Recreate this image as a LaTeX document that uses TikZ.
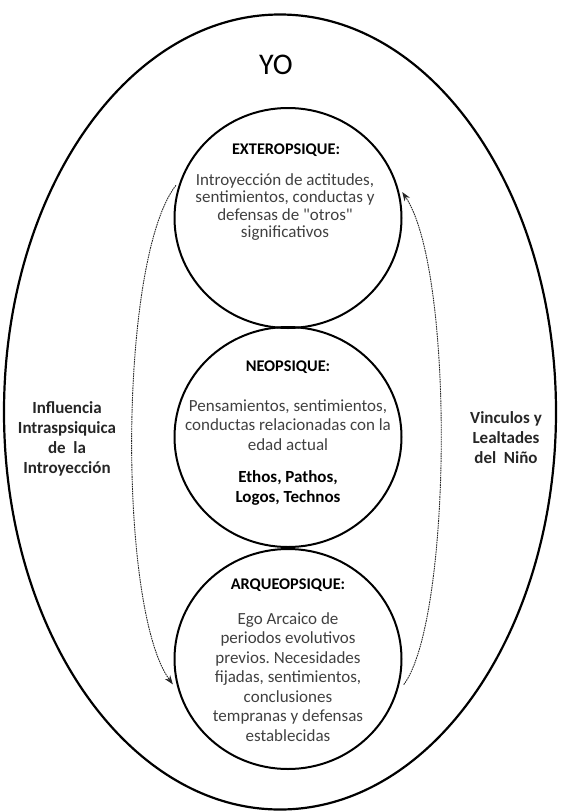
\documentclass[tikz,border=0pt]{standalone}
\usepackage{fontspec}
\setmainfont{Carlito}
\usetikzlibrary{shapes.geometric,arrows.meta}
\frenchspacing
\tikzset{
	capa/.style={draw, ellipse, line width=2pt, minimum width=227pt, minimum height=220pt, inner sep=0pt},
	titulo/.style={font=\fontsize{16.3}{20}\selectfont\bfseries},
	cuerpo/.style={align=center, text=black!75, font=\fontsize{17}{19.5}\selectfont},
	lateral/.style={align=center, text=black!85, font=\fontsize{17}{20}\selectfont\bfseries},
	flujo/.style={line width=0.9pt, black!85, dash pattern=on 1.6pt off 0.8pt, -{Stealth[length=9pt,width=6.5pt]}}
}
\begin{document}
\begin{tikzpicture}[x=1pt, y=-1pt]
		\useasboundingbox (0, 0) rectangle (561, 812);
		% yo
		\node[draw, ellipse, line width=2.2pt, minimum width=552pt, minimum height=795pt] (yo) at (280, 412) {};
		\node[font=\fontsize{30}{31}\selectfont] (yotxt) at (276, 65) {YO};
		% tres estados
		\node[capa] (ext) at (288, 218) {};
		\node[capa] (neo) at (288, 437) {};
		\node[capa] (arq) at (288, 659) {};
		\node[titulo] (exttit) at (286, 150) {EXTEROPSIQUE:};
		\node[cuerpo, font=\fontsize{17}{17.3}\selectfont] (exttxt) at (285, 207) {Introyección de actitudes,\\sentimientos, conductas y\\defensas de \textquotedbl otros\textquotedbl\\significativos};
		\node[titulo] (neotit) at (288, 367) {NEOPSIQUE:};
		\node[cuerpo] (neotxt) at (288, 425) {Pensamientos, sentimientos,\\conductas relacionadas con la\\edad actual};
		\node[titulo, align=center, font=\fontsize{17}{20}\selectfont\bfseries] (neoeth) at (288, 488) {Ethos, Pathos,\\Logos, Technos};
		\node[titulo] (arqtit) at (288, 585) {ARQUEOPSIQUE:};
		\node[cuerpo] (arqtxt) at (288, 677) {Ego Arcaico de\\periodos evolutivos\\previos. Necesidades\\fijadas, sentimientos,\\conclusiones\\tempranas y defensas\\establecidas};
		% laterales
		\node[lateral] (infl) at (67, 439) {Influencia\\Intraspsiquica\\de\ \ la\\Introyección};
		\node[lateral] (vinc) at (506, 438) {Vinculos y\\Lealtades\\del\ \ Niño};
		% flechas
		\draw[flujo, shorten <=8pt, shorten >=10pt] (ext.160) .. controls (118, 260) and (118, 610) .. (arq.197);
		\draw[flujo, shorten <=12pt, shorten >=9pt] (arq.342) .. controls (452, 620) and (455, 270) .. (ext.17);
	\end{tikzpicture}
\end{document}
